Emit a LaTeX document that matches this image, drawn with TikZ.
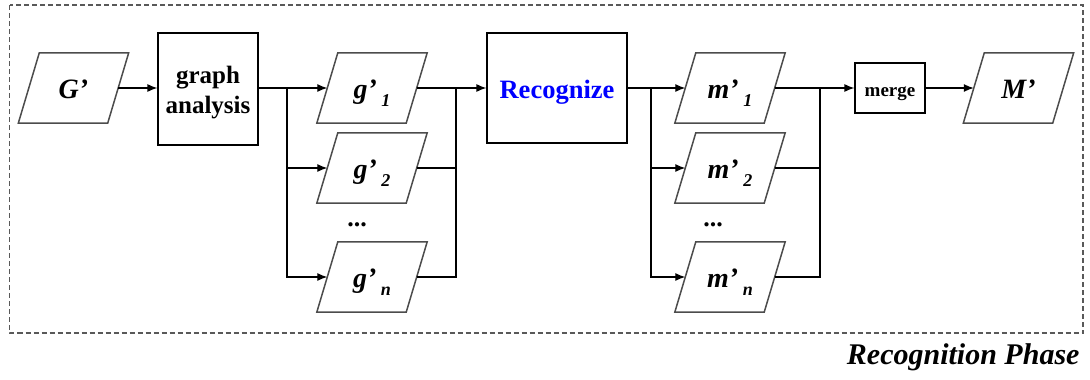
\documentclass[tikz,border=0pt]{standalone}
\usepackage{fontspec}
\setmainfont{Liberation Serif}
\usetikzlibrary{arrows.meta}

% parallelogram data node: text node plus slanted outline
\newcommand{\paranode}[4]{%
  \node[pnode] (#1) at (#2,#3) {#4};
  \draw[pline] ([xshift=-10.5pt]#1.south west) -- ([xshift=-10.5pt]#1.south east)
    -- ([xshift=10.5pt]#1.north east) -- ([xshift=10.5pt]#1.north west) -- cycle;}
\newcommand{\sub}[2]{{\fontsize{28}{28}\selectfont\bfseries\itshape #1’\,\raisebox{-8pt}{\fontsize{18}{18}\selectfont #2}}}

\begin{document}
\begin{tikzpicture}[x=1pt,y=-1pt,
  pnode/.style={minimum width=89pt,minimum height=70pt,inner sep=0pt,
    text height=20pt,text depth=0pt},
  pline/.style={line width=1.5pt,draw=black!70,line join=miter},
  procbox/.style={draw,line width=1.2pt,inner sep=0pt,align=center,
    font=\fontsize{25}{30}\selectfont\bfseries},
  wire/.style={line width=1.2pt},
  arr/.style={wire,-{Latex[length=10pt,width=8pt]}},
  frame/.style={draw=black!65,line width=1.2pt,dash pattern=on 5pt off 3pt}]
\useasboundingbox (0,0) rectangle (1090,380);

% dashed phase frame
\draw[frame] (9.5,5) rectangle (1083,333);

% input graph and analysis
\paranode{G}{73.5}{88}{{\fontsize{28}{28}\selectfont\bfseries\itshape G’}}
\node[procbox,minimum width=100pt,minimum height=112pt,
  text height=50pt,text depth=2pt] (ga) at (208,89) {graph\\analysis};

% subgraphs
\paranode{g1}{372}{88}{\sub{g}{1}}
\paranode{g2}{372}{168}{\sub{g}{2}}
\paranode{gn}{372}{277}{\sub{g}{n}}
\node[font=\fontsize{26}{26}\selectfont\bfseries] (gdots) at (357,225) {...};

% recognition step
\node[procbox,minimum width=140pt,minimum height=110pt,text=blue,
  font=\fontsize{26.5}{28}\selectfont\bfseries,text height=20pt,text depth=0pt] (rec) at (557,88) {Recognize};

% partial results
\paranode{m1}{730}{88}{\sub{m}{1}}
\paranode{m2}{730}{168}{\sub{m}{2}}
\paranode{mn}{730}{277}{\sub{m}{n}}
\node[font=\fontsize{26}{26}\selectfont\bfseries] (mdots) at (713,225) {...};

% merge and output
\node[procbox,minimum width=70pt,minimum height=50pt,font=\fontsize{19}{19}\selectfont\bfseries,
  text height=16pt,text depth=0pt] (merge) at (890,88) {merge};
\paranode{M}{1018.5}{88}{{\fontsize{28}{28}\selectfont\bfseries\itshape M’}}

% branch and join points
\coordinate (s1) at (287,88);
\coordinate (j1) at (456,88);
\coordinate (s2) at (651,88);
\coordinate (j2) at (820,88);

% connectors
\draw[arr] (G.east) -- (G.east -| ga.west);
\draw[arr] (ga.east |- s1) -- (g1.west);
\draw[arr] (s1) |- (g2.west);
\draw[arr] (s1) |- (gn.west);
\draw[wire] (g2.east) -| (j1);
\draw[wire] (gn.east) -| (j1);
\draw[arr] (g1.east) -- (rec.west);

\draw[arr] (rec.east) -- (m1.west);
\draw[arr] (s2) |- (m2.west);
\draw[arr] (s2) |- (mn.west);
\draw[wire] (m2.east) -| (j2);
\draw[wire] (mn.east) -| (j2);
\draw[arr] (m1.east) -- (merge.west);
\draw[arr] (merge.east) -- (M.west);

% phase caption
\node[anchor=east,font=\fontsize{30}{30}\selectfont\bfseries\itshape] (phase) at (1083,357) {Recognition Phase};
\end{tikzpicture}
\end{document}
